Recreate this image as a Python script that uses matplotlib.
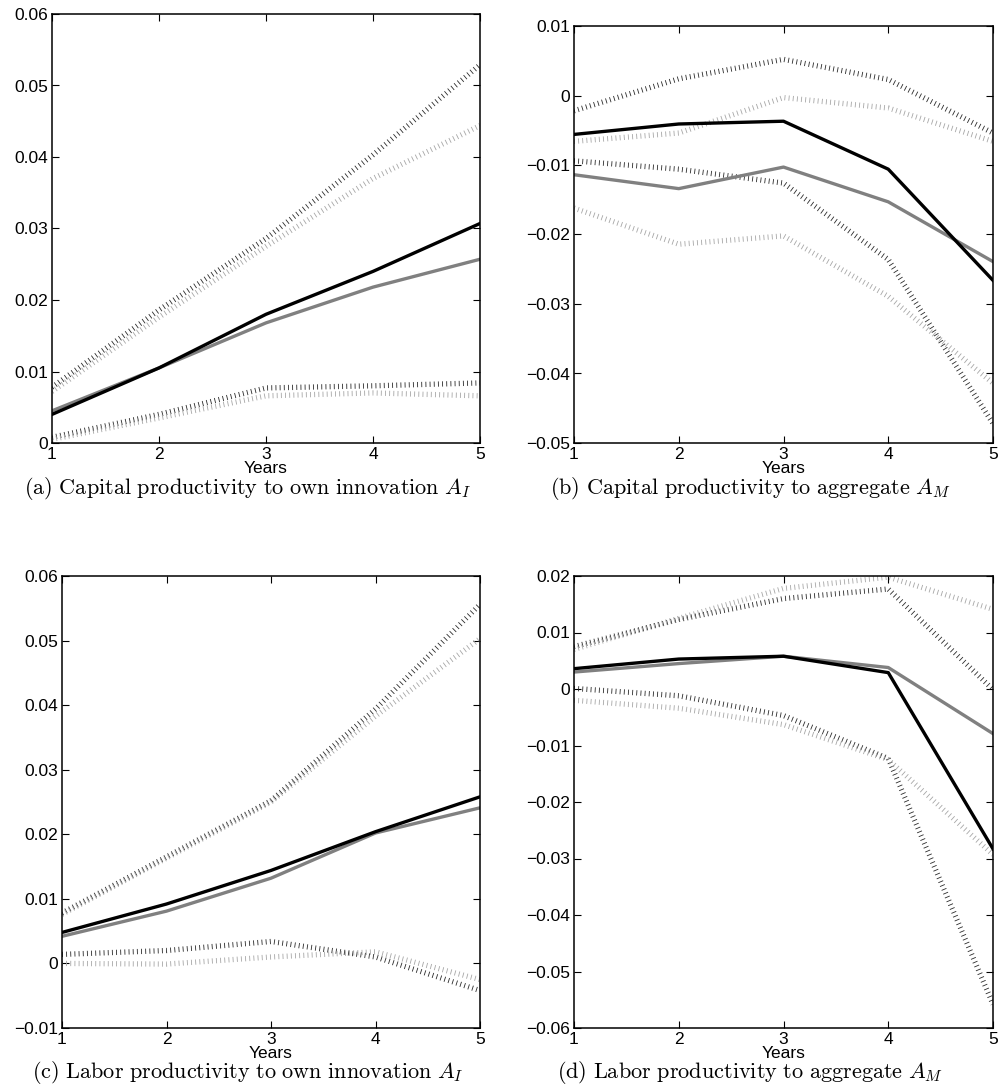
import numpy as np
import matplotlib
matplotlib.use("Agg")
import matplotlib.pyplot as plt

plt.rcParams['font.family'] = ['Liberation Sans', 'DejaVu Sans']
plt.rcParams['mathtext.fontset'] = 'cm'
plt.rcParams['lines.scale_dashes'] = False

# --- data ---
years = [1, 2, 3, 4, 5]

# (a) capital productivity to own innovation
a_black = [0.0040, 0.0105, 0.0180, 0.0240, 0.0307]
a_gray = [0.0045, 0.0105, 0.0168, 0.0218, 0.0257]
a_black_hi = [0.0078, 0.0186, 0.0286, 0.0403, 0.0529]
a_gray_hi = [0.0072, 0.0176, 0.0275, 0.0370, 0.0444]
a_black_lo = [0.0008, 0.0040, 0.0077, 0.0080, 0.0084]
a_gray_lo = [0.0005, 0.0035, 0.0066, 0.0070, 0.0066]

# (b) capital productivity to aggregate
b_black = [-0.0056, -0.0041, -0.0037, -0.0106, -0.0266]
b_gray = [-0.0114, -0.0134, -0.0103, -0.0153, -0.0239]
b_black_hi = [-0.0022, 0.0024, 0.0052, 0.0023, -0.0054]
b_gray_hi = [-0.0066, -0.0054, -0.0003, -0.0018, -0.0066]
b_black_lo = [-0.0094, -0.0106, -0.0126, -0.0236, -0.0472]
b_gray_lo = [-0.0162, -0.0214, -0.0202, -0.0289, -0.0414]

# (c) labor productivity to own innovation
c_black = [0.0048, 0.0092, 0.0144, 0.0204, 0.0258]
c_gray = [0.0042, 0.0081, 0.0132, 0.0202, 0.0241]
c_black_hi = [0.0078, 0.0165, 0.0252, 0.0394, 0.0556]
c_gray_hi = [0.0076, 0.0163, 0.0250, 0.0383, 0.0503]
c_black_lo = [0.0014, 0.0020, 0.0034, 0.0010, -0.0042]
c_gray_lo = [0.0000, -0.0001, 0.0010, 0.0018, -0.0025]

# (d) labor productivity to aggregate
d_black = [0.0036, 0.0053, 0.0058, 0.0029, -0.0283]
d_gray = [0.0030, 0.0045, 0.0058, 0.0038, -0.0079]
d_black_hi = [0.0075, 0.0123, 0.0160, 0.0177, -0.0001]
d_gray_hi = [0.0070, 0.0125, 0.0178, 0.0198, 0.0141]
d_black_lo = [0.0001, -0.0012, -0.0047, -0.0123, -0.0558]
d_gray_lo = [-0.0020, -0.0034, -0.0063, -0.0125, -0.0293]

panels = [
    (a_black, a_gray, a_black_hi, a_gray_hi, a_black_lo, a_gray_lo),
    (b_black, b_gray, b_black_hi, b_gray_hi, b_black_lo, b_gray_lo),
    (c_black, c_gray, c_black_hi, c_gray_hi, c_black_lo, c_gray_lo),
    (d_black, d_gray, d_black_hi, d_gray_hi, d_black_lo, d_gray_lo),
]
ylims = [(0, 0.06), (-0.05, 0.01), (-0.01, 0.06), (-0.06, 0.02)]
captions = [
    r"$\mathrm{(a)\ Capital\ productivity\ to\ own\ innovation}\ A_I$",
    r"$\mathrm{(b)\ Capital\ productivity\ to\ aggregate}\ A_M$",
    r"$\mathrm{(c)\ Labor\ productivity\ to\ own\ innovation}\ A_I$",
    r"$\mathrm{(d)\ Labor\ productivity\ to\ aggregate}\ A_M$",
]

W, H = 1002, 1086
# axes boxes in pixels: left, right, top, bottom
boxes = [(52, 480, 14, 443), (574, 993, 26, 443),
         (62, 480, 576, 1028), (574, 993, 576, 1028)]
caption_pos = [(248, 489), (750, 489), (248, 1073), (750, 1073)]

fig = plt.figure(figsize=(W / 100, H / 100), dpi=100)

dot = (0, (0.6, 2.4))
dark_dot, light_dot = '#2a2a2a', '#a6a6a6'

for i, (series, yl, box) in enumerate(zip(panels, ylims, boxes)):
    l, r, t, b = box
    ax = fig.add_axes([l / W, 1 - b / H, (r - l) / W, (b - t) / H])
    s_black, s_gray, bh, gh, bl, gl = series
    for ys, c in [(bh, dark_dot), (bl, dark_dot), (gh, light_dot), (gl, light_dot)]:
        ax.plot(years, ys, color=c, lw=3.8, linestyle=dot, dash_capstyle='butt')
    ax.plot(years, s_gray, color='#808080', lw=2.4)
    ax.plot(years, s_black, color='black', lw=2.4)

    ax.set_xlim(1, 5)
    ax.set_ylim(*yl)
    ax.set_xticks(years)
    ax.set_yticks(np.round(np.arange(yl[0], yl[1] + 1e-9, 0.01), 2))
    ax.yaxis.set_major_formatter(matplotlib.ticker.FuncFormatter(
        lambda v, p: '0' if abs(v) < 1e-9 else ('%g' % v).replace('-', '\u2212')))
    ax.tick_params(direction='in', length=5, width=0.8, top=True, right=True,
                   labelsize=12.5, pad=3)
    for sp in ax.spines.values():
        sp.set_linewidth(1.1)
    ax.set_xlabel('Years', fontsize=12.5, labelpad=-1)

    cx, cy = caption_pos[i]
    fig.text(cx / W, 1 - cy / H, captions[i], ha='center', va='center', fontsize=16)

fig.savefig('out.png', dpi=100)
